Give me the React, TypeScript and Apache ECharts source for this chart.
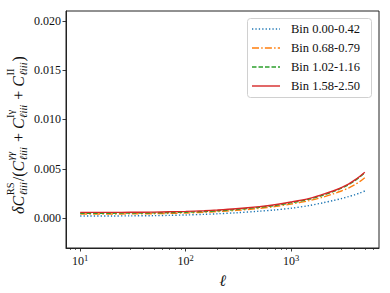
import React, { useEffect, useRef } from 'react';
import * as echarts from 'echarts';

const ell = [10, 20, 30, 50, 70, 100, 150, 200, 300, 500, 700, 1000, 1500, 2000, 2500, 3000, 3500, 4000, 4500, 5000];
const bin1 = [0.00022, 0.00022, 0.00023, 0.00025, 0.00028, 0.00032, 0.00038, 0.00044, 0.00054, 0.0007, 0.00083, 0.001, 0.00128, 0.00155, 0.00178, 0.00198, 0.00218, 0.00236, 0.00255, 0.00275];
const bin2 = [0.00042, 0.00042, 0.00043, 0.00045, 0.00048, 0.00052, 0.00059, 0.00066, 0.00078, 0.00099, 0.00117, 0.00142, 0.00178, 0.00212, 0.00245, 0.00275, 0.00305, 0.00338, 0.00372, 0.0041];
const bin3 = [0.0005, 0.0005, 0.00051, 0.00053, 0.00056, 0.0006, 0.00067, 0.00074, 0.00087, 0.00109, 0.00128, 0.00155, 0.00193, 0.00232, 0.00268, 0.00303, 0.00338, 0.00377, 0.00418, 0.00458];
const bin4 = [0.00058, 0.00058, 0.00059, 0.00061, 0.00064, 0.00068, 0.00075, 0.00082, 0.00095, 0.00117, 0.00136, 0.00163, 0.002, 0.0024, 0.00275, 0.0031, 0.00345, 0.00385, 0.00425, 0.00465];
const seriesNames = ['Bin 0.00-0.42', 'Bin 0.68-0.79', 'Bin 1.02-1.16', 'Bin 1.58-2.50'];
const seriesValues = [bin1, bin2, bin3, bin4];
const yTicks = [0, 0.005, 0.01, 0.015, 0.02];
const xMajorExp = [1, 2, 3];
const xMinorVals = [8, 9, 20, 30, 40, 50, 60, 70, 80, 90, 200, 300, 400, 500, 600, 700, 800, 900, 2000, 3000, 4000, 5000, 6000];

const COLORS = ['#1f77b4', '#ff7f0e', '#2ca02c', '#d62728'];
const DASHES: any[] = [[1.3, 2.1], [7, 2.2, 1.5, 2.2], [4.5, 2], null];
const FONT = 'Liberation Serif, serif';

const X_MIN = Math.log10(7.33);
const X_MAX = Math.log10(6820);

function measure(text: string, size: number, italic: boolean) {
  const c = document.createElement('canvas').getContext('2d');
  if (!c) return text.length * size * 0.5;
  c.font = `${italic ? 'italic ' : ''}${size}px "Liberation Serif"`;
  return c.measureText(text).width;
}

function buildYLabel() {
  const MAIN = 16;
  const SCR = 10.5;
  type Seg = { t?: string; it?: boolean; sup?: string; supIt?: boolean; sub?: string };
  const segs: Seg[] = [
    { t: 'δC', it: true },
    { sup: 'RS', supIt: false, sub: 'ℓiii' },
    { t: '/(', it: false },
    { t: 'C', it: true },
    { sup: 'γγ', supIt: true, sub: 'ℓiii' },
    { t: ' + ', it: false },
    { t: 'C', it: true },
    { sup: 'Iγ', supIt: false, sub: 'ℓiii' },
    { t: ' + ', it: false },
    { t: 'C', it: true },
    { sup: 'II', supIt: false, sub: 'ℓiii' },
    { t: ')', it: false },
  ];
  let x = 0;
  const items: any[] = [];
  segs.forEach((s) => {
    if (s.t !== undefined) {
      const w = measure(s.t, MAIN, !!s.it);
      items.push({ text: s.t, x, y: 0, size: MAIN, it: !!s.it });
      x += w;
    } else {
      const w1 = measure(s.sup || '', SCR, !!s.supIt);
      const w2 = measure(s.sub || '', SCR, true);
      items.push({ text: s.sup, x: x + 0.5, y: -7.5, size: SCR, it: !!s.supIt });
      items.push({ text: s.sub, x: x + 0.5, y: 5.5, size: SCR, it: true });
      x += Math.max(w1, w2) + 1.5;
    }
  });
  const W = x;
  const children = items.map((it) => ({
    type: 'text',
    x: it.x - W / 2,
    y: it.y,
    style: {
      text: it.text,
      fontSize: it.size,
      fontFamily: FONT,
      fontStyle: it.it ? 'italic' : 'normal',
      fill: '#111',
      textAlign: 'left',
      align: 'left',
      textVerticalAlign: 'middle',
      verticalAlign: 'middle',
    },
  }));
  return { type: 'group', x: 18, y: 135, rotation: Math.PI / 2, children };
}

function buildLegend() {
  const children: any[] = [
    {
      type: 'rect',
      shape: { x: 247.5, y: 18.5, width: 124, height: 79, r: 3 },
      style: { fill: 'rgba(255,255,255,0.8)', stroke: '#d0d0d0', lineWidth: 1 },
      z: 10,
    },
  ];
  seriesNames.forEach((name, i) => {
    const y = 29 + i * 19;
    children.push({
      type: 'line',
      shape: { x1: 252, y1: y, x2: 280, y2: y },
      style: { stroke: COLORS[i], lineWidth: 1.4, lineDash: DASHES[i] || undefined },
      z: 11,
    });
    children.push({
      type: 'text',
      x: 291,
      y: y,
      style: {
        text: name,
        fontSize: 12.5,
        fontFamily: FONT,
        fill: '#111',
        textAlign: 'left',
        align: 'left',
        textVerticalAlign: 'middle',
        verticalAlign: 'middle',
      },
      z: 11,
    });
  });
  return { type: 'group', children };
}

export default function App() {
  const ref = useRef<HTMLDivElement>(null);
  useEffect(() => {
    document.body.style.margin = '0';
    if (!ref.current) return;
    const chart = echarts.init(ref.current, undefined, { renderer: 'svg' });
    const series: any[] = seriesNames.map((name, i) => ({
      name,
      type: 'line',
      xAxisIndex: 0,
      yAxisIndex: 0,
      data: ell.map((l, j) => [Math.log10(l), seriesValues[i][j]]),
      showSymbol: false,
      symbol: 'none',
      smooth: 0.3,
      z: 2 + i,
      lineStyle: { color: COLORS[i], width: 1.4, type: DASHES[i] || 'solid' },
      itemStyle: { color: COLORS[i] },
    }));
    const axisLine = { show: true, onZero: false, lineStyle: { color: '#222', width: 1 } };
    chart.setOption({
      animation: false,
      backgroundColor: '#fff',
      textStyle: { fontFamily: FONT },
      grid: {
        left: 66,
        right: 11,
        top: 11,
        bottom: 44,
        show: true,
        borderColor: '#222',
        borderWidth: 1,
        backgroundColor: 'transparent',
      },
      xAxis: [
        {
          type: 'value',
          min: X_MIN,
          max: X_MAX,
          position: 'bottom',
          axisLine,
          splitLine: { show: false },
          axisTick: { show: true, inside: false, length: 3.5, customValues: xMajorExp, lineStyle: { color: '#222', width: 0.9 } },
          axisLabel: {
            customValues: xMajorExp,
            margin: 5,
            formatter: (v: number) => `{b|10}{s|${Math.round(v)}}`,
            rich: {
              b: { fontFamily: FONT, fontSize: 12, color: '#111', lineHeight: 14, verticalAlign: 'bottom' },
              s: { fontFamily: FONT, fontSize: 8.5, color: '#111', lineHeight: 9, verticalAlign: 'top' },
            },
          },
          name: 'ℓ',
          nameLocation: 'middle',
          nameGap: 24,
          nameTextStyle: { fontFamily: FONT, fontSize: 16, fontStyle: 'italic', color: '#111' },
        },
        {
          type: 'value',
          min: X_MIN,
          max: X_MAX,
          position: 'bottom',
          axisLine: { show: false, onZero: false },
          splitLine: { show: false },
          axisLabel: { show: false },
          axisTick: { show: true, inside: false, length: 2, customValues: xMinorVals.map((v) => Math.log10(v)), lineStyle: { color: '#222', width: 0.7 } },
        },
      ],
      yAxis: [
        {
          type: 'value',
          min: -0.00303,
          max: 0.021,
          axisLine,
          splitLine: { show: false },
          axisTick: { show: true, inside: false, length: 3.5, customValues: yTicks, lineStyle: { color: '#222', width: 0.9 } },
          axisLabel: {
            customValues: yTicks,
            margin: 5,
            fontFamily: FONT,
            fontSize: 12,
            color: '#111',
            formatter: (v: number) => v.toFixed(3),
          },
        },
      ],
      graphic: [buildYLabel(), buildLegend()],
      series,
    });
    return () => chart.dispose();
  }, []);
  return <div ref={ref} style={{ width: 390, height: 293 }} />;
}
